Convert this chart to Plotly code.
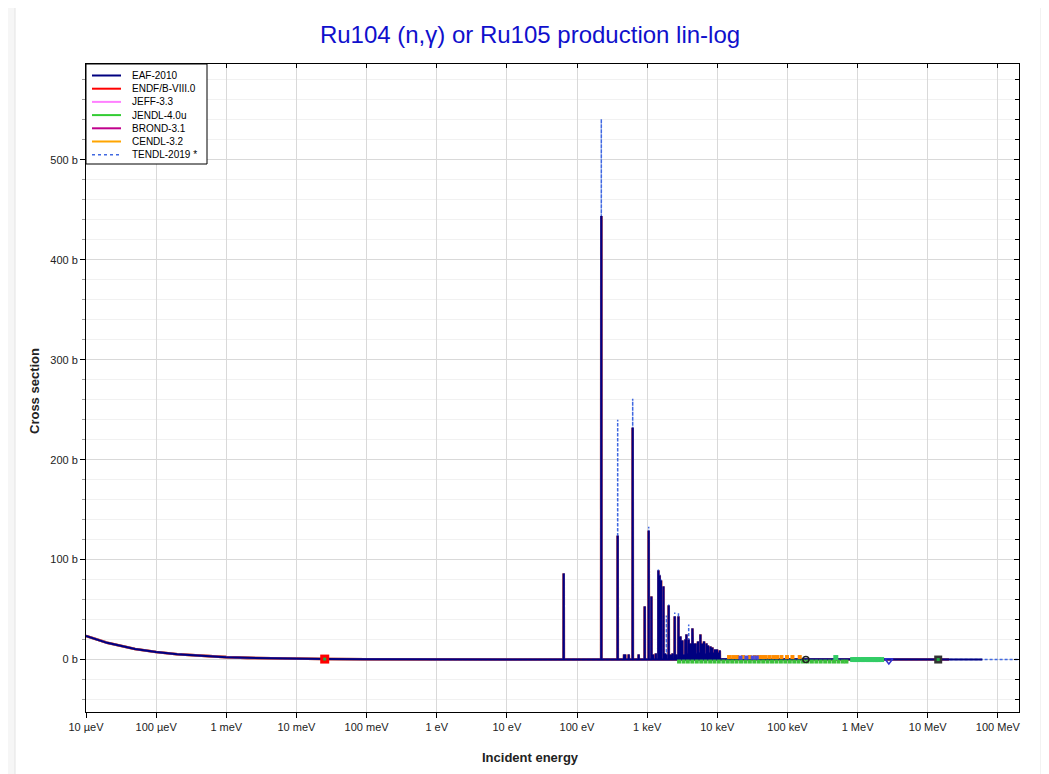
import math
import plotly.graph_objects as go

# ---------------- data ----------------
title_text = "Ru104 (n,γ) or Ru105 production lin-log"
x_title = "Incident energy"
y_title = "Cross section"
libraries = ["EAF-2010", "ENDF/B-VIII.0", "JEFF-3.3", "JENDL-4.0u",
             "BROND-3.1", "CENDL-3.2", "TENDL-2019 *"]
lib_colors = ["#000080", "#ff0000", "#ff80ff", "#33cc33",
              "#c0008c", "#ffa500", "#4169e1"]

# smooth 1/v region (eV, barn)
thermal_E = [1e-5, 2e-5, 5e-5, 1e-4, 2e-4, 5e-4, 1e-3, 2e-3, 5e-3, 1e-2,
             2.53e-2, 0.1, 1.0, 10.0, 50.0]
thermal_xs = [23.6, 16.7, 10.6, 7.5, 5.3, 3.35, 2.37, 1.67, 1.06, 0.75,
              0.47, 0.24, 0.075, 0.024, 0.011]

# resolved resonances: energy (eV), EAF peak (b), TENDL peak (b)
res_E = [64.6, 222, 380, 470, 485, 546, 622, 757, 923, 1052, 1149, 1220,
         1330, 1445, 1510, 1575, 1706, 1800, 1881, 2028, 2150, 2300, 2473,
         2600, 2793, 2981, 3050, 3177, 3350, 3507, 3628, 3750, 3910, 4133,
         4280, 4415, 4520, 4656, 4920, 5060, 5309, 5500, 5744, 5950, 6133,
         6300, 6462, 6700, 6998, 7180, 7379, 7650, 7983, 8220, 8519, 8850,
         9275, 9580, 9901, 10300, 10837]
res_eaf = [86, 444, 124, 5, 5, 5, 232, 5, 53, 129, 63, 5,
           6, 89, 84, 79, 73, 6, 5, 54, 5, 6, 43,
           5, 43, 23, 6, 19, 5, 20, 25, 6, 20, 16,
           7, 31, 5, 16, 16, 6, 18, 7, 25, 6, 16,
           7, 18, 6, 16, 8, 14, 7, 13, 6, 12, 7,
           10, 6, 10, 7, 9]
res_tendl = [86, 541, 240, 5, 5, 5, 261, 5, 53, 133, 63, 5,
             6, 90, 85, 80, 74, 6, 44, 55, 5, 6, 47,
             5, 47, 23, 6, 19, 5, 20, 25, 6, 35, 16,
             7, 31, 5, 16, 16, 6, 18, 7, 25, 6, 16,
             7, 18, 6, 16, 8, 14, 7, 13, 6, 12, 7,
             10, 6, 10, 7, 9]

# fast region (eV, barn)
fast_E = [1.2e4, 2e4, 5e4, 1e5, 3e5, 1e6, 3e6, 1e7, 2e7]
fast_xs = [0.30, 0.25, 0.18, 0.13, 0.09, 0.07, 0.03, 0.005, 0.001]
eaf_tail_E = [3e7, 6e7]
eaf_tail_xs = [0.0008, 0.0005]
tendl_tail_E = [3e7, 6e7, 1e8, 2e8]
tendl_tail_xs = [0.0008, 0.0005, 0.0004, 0.0003]

# experimental points (eV, barn)
exp_red_E = [0.0253]
exp_red_xs = [0.47]
exp_orange_E = [14.7e3, 16.8e3, 19.1e3, 23.3e3, 29.0e3, 34.2e3, 39.4e3, 44.0e3,
                49.0e3, 55.9e3, 63.8e3, 71.1e3, 82.1e3, 98.6e3, 117.8e3, 149.6e3]
exp_orange_xs = [2.5] * 16
exp_blue_E = [21.4e3, 26.0e3, 32.0e3, 36.5e3]
exp_blue_xs = [2.0, 2.0, 2.0, 2.0]
exp_green_E = [2.85e3, 3.3e3, 3.8e3, 4.4e3, 5.1e3, 5.9e3, 6.8e3, 7.9e3, 9.1e3,
               10.5e3, 12.2e3, 14.1e3, 16.3e3, 18.8e3, 21.8e3, 25.2e3, 29.1e3,
               33.7e3, 39.0e3, 45.1e3, 52.1e3, 60.3e3, 69.7e3, 80.6e3, 93.2e3,
               108e3, 125e3, 144e3, 167e3, 193e3, 223e3, 258e3, 298e3, 345e3,
               399e3, 461e3, 533e3, 616e3, 693e3]
exp_green_xs = [-2.0] * 39
exp_green2_E = [489e3, 850e3, 920e3, 1.0e6, 1.1e6, 1.2e6, 1.3e6, 1.4e6, 1.5e6,
                1.6e6, 1.7e6, 1.8e6, 1.9e6, 2.0e6, 2.2e6]
exp_green2_xs = [2.0, 0, 0, 0, 0, 0, 0, 0, 0, 0, 0, 0, 0, 0, 0]
exp_circle_E = [183e3]
exp_circle_xs = [0.1]
exp_tri_E = [2.79e6]
exp_tri_xs = [-1.0]
exp_dark_E = [14.1e6]
exp_dark_xs = [0.0]

x_tickvals = [1e-5, 1e-4, 1e-3, 1e-2, 1e-1, 1, 10, 100, 1e3, 1e4, 1e5, 1e6, 1e7, 1e8]
x_ticktext = ["10 µeV", "100 µeV", "1 meV", "10 meV", "100 meV", "1 eV", "10 eV",
              "100 eV", "1 keV", "10 keV", "100 keV", "1 MeV", "10 MeV", "100 MeV"]

# ---------------- build curves ----------------
def curve(peaks, tail_E, tail_xs):
    xs = list(thermal_E)
    ys = list(thermal_xs)
    for e, p in zip(res_E, peaks):
        xs += [e * 0.997, e, e * 1.003]
        ys += [0.01, p, 0.01]
    xs += list(fast_E) + list(tail_E)
    ys += list(fast_xs) + list(tail_xs)
    return xs, ys

fig = go.Figure()

# other evaluated libraries underneath (ENDF, JEFF, JENDL, CENDL, BROND)
for idx in [1, 2, 3, 5, 4]:
    xs, ys = curve(res_eaf, [], [])
    fig.add_trace(go.Scatter(x=xs, y=ys, mode="lines", name=libraries[idx],
                             line=dict(color=lib_colors[idx], width=2.6),
                             opacity=0.6, showlegend=False))

# TENDL dashed
xs, ys = curve(res_tendl, tendl_tail_E, tendl_tail_xs)
fig.add_trace(go.Scatter(x=xs, y=ys, mode="lines", name=libraries[6],
                         line=dict(color=lib_colors[6], width=1.5, dash="3px,2px"),
                         showlegend=False))
# EAF on top
xs, ys = curve(res_eaf, eaf_tail_E, eaf_tail_xs)
fig.add_trace(go.Scatter(x=xs, y=ys, mode="lines", name=libraries[0],
                         line=dict(color=lib_colors[0], width=2.0),
                         showlegend=False))

# experimental markers
def pts(x, y, color, symbol, size, line_color=None, line_width=0):
    fig.add_trace(go.Scatter(x=x, y=y, mode="markers", showlegend=False,
                             marker=dict(color=color, symbol=symbol, size=size,
                                         line=dict(color=line_color or color,
                                                   width=line_width))))

pts(exp_green_E, exp_green_xs, "#3cc03c", "square", 4)
pts(exp_orange_E, exp_orange_xs, "#ff8c00", "square", 4)
pts(exp_blue_E, exp_blue_xs, "#4a4ae0", "square", 4)
pts(exp_green2_E, exp_green2_xs, "#33cc66", "square", 5)
pts(exp_red_E, exp_red_xs, "#ff0000", "square", 9)
pts(exp_red_E, exp_red_xs, "#22aa44", "square", 3)
pts(exp_circle_E, exp_circle_xs, "rgba(0,0,0,0)", "circle", 6, "#222222", 1.5)
pts(exp_tri_E, exp_tri_xs, "rgba(0,0,0,0)", "triangle-down", 7, "#3030d0", 1.5)
pts(exp_dark_E, exp_dark_xs, "#333333", "square", 8)
pts(exp_dark_E, exp_dark_xs, "#22aa44", "square", 3)

# invisible trace for mirrored inside ticks (top / right)
fig.add_trace(go.Scatter(x=[1.0], y=[0.0], xaxis="x2", yaxis="y2", mode="markers",
                         marker=dict(opacity=0), showlegend=False, hoverinfo="skip"))

# ---------------- layout ----------------
# the page body adds an 8px offset, so the figure is 8px smaller
OFF = 8
W, H = 1049 - OFF, 774 - OFF
L, R, T, B = 86 - OFF, 30, 64 - OFF, 62
pw, ph = W - L - R, H - T - B
# helpers converting screen pixel positions to paper coordinates
def px(x):
    return (x - 86) / pw
def py(y):
    return (712 - y) / ph

xrange = [-5, math.log10(2e8)]
yrange = [-52.5, 596]
font_family = "Liberation Sans, Arial, sans-serif"

fig.update_layout(
    width=W, height=H,
    margin=dict(l=L, r=R, t=T, b=B),
    paper_bgcolor="#f6f6f6",
    plot_bgcolor="white",
    showlegend=False,
    font=dict(family=font_family, size=11, color="#222222"),
    title=dict(text=title_text, x=(530 - OFF) / W, xref="container", xanchor="center",
               y=1 - (35 - OFF) / H, yref="container", yanchor="middle",
               font=dict(family=font_family, size=24, color="#1010cc")),
    xaxis=dict(type="log", range=xrange, tickmode="array",
               tickvals=x_tickvals, ticktext=x_ticktext,
               ticks="outside", ticklen=5, tickcolor="black",
               showgrid=True, gridcolor="#d9d9d9", gridwidth=1,
               showline=True, linecolor="black", linewidth=1, mirror=True,
               zeroline=False, tickfont=dict(size=11)),
    yaxis=dict(range=yrange, tickmode="linear", tick0=0, dtick=100,
               ticksuffix=" b", ticks="outside", ticklen=5, tickcolor="black",
               showgrid=True, gridcolor="#d9d9d9", gridwidth=1,
               minor=dict(tickmode="linear", tick0=0, dtick=20, ticks="outside",
                          ticklen=3, tickcolor="#999999",
                          showgrid=True, gridcolor="#f1f1f1"),
               showline=True, linecolor="black", linewidth=1, mirror=True,
               zeroline=False, tickfont=dict(size=11)),
    xaxis2=dict(type="log", range=xrange, overlaying="x", side="top",
                tickmode="array", tickvals=x_tickvals, ticks="inside", ticklen=4,
                tickcolor="black", showticklabels=False, showgrid=False,
                zeroline=False, showline=False),
    yaxis2=dict(range=yrange, overlaying="y", side="right", tickmode="linear",
                tick0=0, dtick=100, ticks="inside", ticklen=5, tickcolor="black",
                minor=dict(tickmode="linear", tick0=0, dtick=20, ticks="inside",
                           ticklen=4, tickcolor="black", showgrid=False),
                showticklabels=False, showgrid=False, zeroline=False,
                showline=False),
)

shapes = []
# white chart card behind everything
shapes.append(dict(type="rect", xref="paper", yref="paper", layer="below",
                   x0=px(15), x1=px(1041), y0=py(790), y1=py(4),
                   fillcolor="white", line=dict(color="#e4e4e4", width=1)))
# custom legend box
shapes.append(dict(type="rect", xref="paper", yref="paper",
                   x0=px(86), x1=px(207), y0=py(164), y1=py(64),
                   fillcolor="white", line=dict(color="black", width=1)))
annotations = []
for i, (name, col) in enumerate(zip(libraries, lib_colors)):
    yy = py(75.5 + i * 13.2)
    dash = "3px,3px" if i == 6 else "solid"
    shapes.append(dict(type="line", xref="paper", yref="paper",
                       x0=px(92), x1=px(121), y0=yy, y1=yy,
                       line=dict(color=col, width=2 if i < 6 else 1.6, dash=dash)))
    annotations.append(dict(text=name, xref="paper", yref="paper",
                            x=px(130), y=yy, xanchor="left", yanchor="middle",
                            showarrow=False,
                            font=dict(family=font_family, size=10, color="black")))
# axis titles
annotations.append(dict(text="<b>" + x_title + "</b>", xref="paper", yref="paper",
                        x=px(530), y=py(757), xanchor="center", yanchor="middle",
                        showarrow=False,
                        font=dict(family=font_family, size=13, color="#222222")))
annotations.append(dict(text="<b>" + y_title + "</b>", xref="paper", yref="paper",
                        x=px(34), y=py(391), xanchor="center", yanchor="middle",
                        textangle=-90, showarrow=False,
                        font=dict(family=font_family, size=13, color="#222222")))
fig.update_layout(shapes=shapes, annotations=annotations)

fig.write_html("out.html")
